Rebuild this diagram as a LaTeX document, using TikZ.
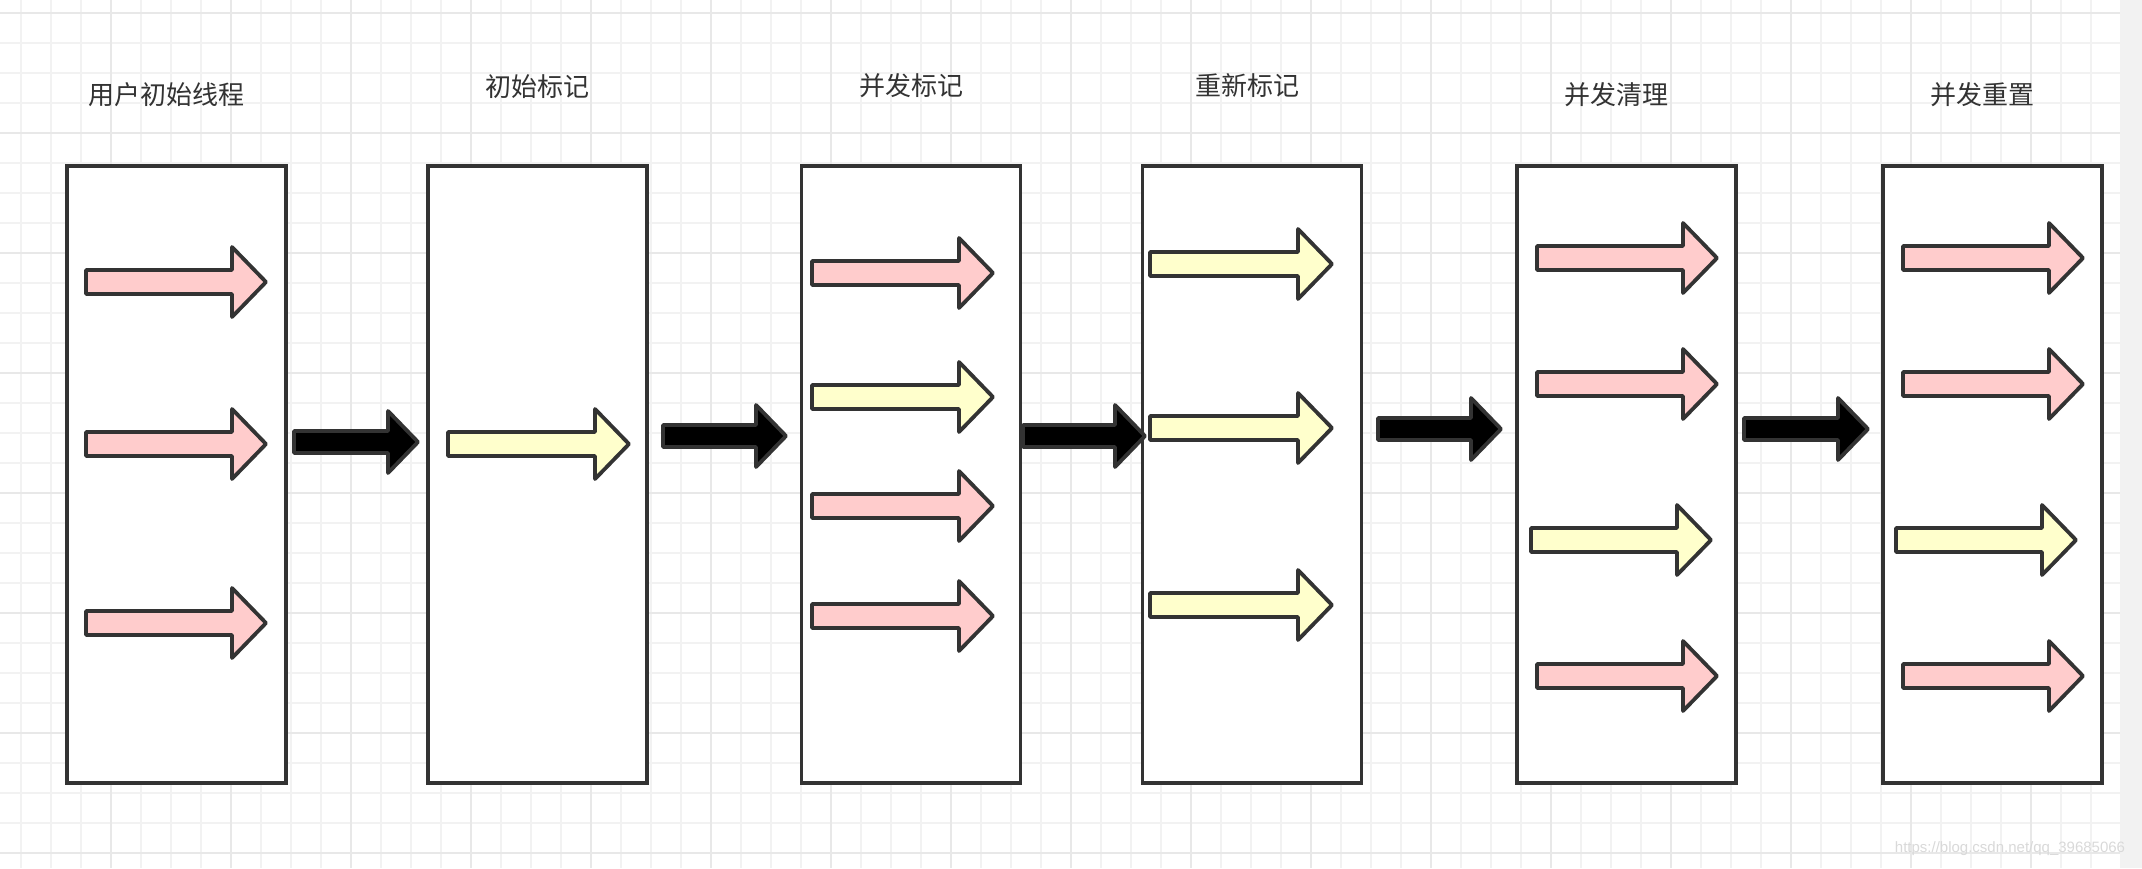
\documentclass[tikz,border=0pt]{standalone}
\usepackage{fontspec}
\newfontfamily\cjk{Noto Sans CJK SC}
\newfontfamily\wmfont{Liberation Sans}
\definecolor{pinkf}{HTML}{FFCCCC}
\definecolor{yellowf}{HTML}{FFFFCC}
\definecolor{edgec}{HTML}{333333}
\definecolor{gridminor}{HTML}{F2F2F2}
\definecolor{gridmajor}{HTML}{E8E8E8}
\definecolor{stripc}{HTML}{F2F2F2}
\definecolor{wmc}{HTML}{D9D9D9}
% style, xstart, xtip, y, shaft half, head half, head length
\newcommand{\blockarr}[7]{\draw[#1] (#2,#4-#5) -- (#3-#7,#4-#5) -- (#3-#7,#4-#6) -- (#3,#4) -- (#3-#7,#4+#6) -- (#3-#7,#4+#5) -- (#2,#4+#5) -- cycle;}
\newcommand{\thr}[4]{\blockarr{#1}{#2}{#3}{#4}{12}{35}{34}}
\newcommand{\flw}[3]{\blockarr{flowarr}{#1}{#2}{#3}{11}{31}{30}}
\tikzset{
  x=1pt, y=-1pt,
  minorline/.style={draw=gridminor, line width=1.6pt},
  majorline/.style={draw=gridmajor, line width=2pt},
  stagebox/.style={draw=edgec, fill=white, line width=3.7pt, minimum width=219pt, minimum height=617pt, inner sep=0pt},
  stagetitle/.style={font=\cjk\fontsize{26}{30}\selectfont, text=edgec, inner sep=0pt},
  pinkarr/.style={draw=edgec, fill=pinkf, line width=3.8pt, line join=round},
  yellowarr/.style={draw=edgec, fill=yellowf, line width=3.8pt, line join=round},
  flowarr/.style={draw=edgec, fill=black, line width=3.8pt, line join=round},
}
\begin{document}
\begin{tikzpicture}
\useasboundingbox (0,0) rectangle (2142,868);
\fill[white] (0,0) rectangle (2142,868);
% grid
\foreach \x in {21,51,...,2111} \draw[minorline] (\x,0) -- (\x,868);
\foreach \y in {12.7,42.7,...,862.7} \draw[minorline] (0,\y) -- (2120,\y);
\foreach \x in {111,231,...,2031} \draw[majorline] (\x,0) -- (\x,868);
\foreach \y in {12.7,132.7,...,852.7} \draw[majorline] (0,\y) -- (2120,\y);
\fill[stripc] (2120,0) rectangle (2142,868);
% titles
\node[stagetitle] (t1) at (166,95) {用户初始线程};
\node[stagetitle] (t2) at (537,87) {初始标记};
\node[stagetitle] (t3) at (911,86) {并发标记};
\node[stagetitle] (t4) at (1247,86) {重新标记};
\node[stagetitle] (t5) at (1616,95) {并发清理};
\node[stagetitle] (t6) at (1982,95) {并发重置};
% boxes
\node[stagebox] (b1) at (176.5,474.5) {};
\node[stagebox] (b2) at (537.5,474.5) {};
\node[stagebox] (b3) at (911,474.5) {};
\node[stagebox] (b4) at (1252,474.5) {};
\node[stagebox] (b5) at (1626.5,474.5) {};
\node[stagebox] (b6) at (1992.5,474.5) {};
% threads in box 1
\thr{pinkarr}{86}{266}{282}
\thr{pinkarr}{86}{266}{444}
\thr{pinkarr}{86}{266}{623}
% box 2
\thr{yellowarr}{448}{629}{444}
% box 3
\thr{pinkarr}{812}{993}{273}
\thr{yellowarr}{812}{993}{397}
\thr{pinkarr}{812}{993}{506}
\thr{pinkarr}{812}{993}{616}
% box 4
\thr{yellowarr}{1150}{1332}{264}
\thr{yellowarr}{1150}{1332}{428}
\thr{yellowarr}{1150}{1332}{605}
% box 5
\thr{pinkarr}{1537}{1717}{258}
\thr{pinkarr}{1537}{1717}{384}
\thr{yellowarr}{1531}{1711}{540}
\thr{pinkarr}{1537}{1717}{676}
% box 6
\thr{pinkarr}{1903}{2083}{258}
\thr{pinkarr}{1903}{2083}{384}
\thr{yellowarr}{1896}{2076}{540}
\thr{pinkarr}{1903}{2083}{676}
% flow arrows between stages
\flw{294}{418}{442}
\flw{663}{786}{436}
\flw{1023}{1145}{436}
\flw{1378}{1501}{429}
\flw{1744}{1868}{429}
% watermark
\node[font=\wmfont\fontsize{15}{18}\selectfont, text=wmc, inner sep=0pt] (wm) at (2010,849) {https://blog.csdn.net/qq\_39685066};
\end{tikzpicture}
\end{document}
